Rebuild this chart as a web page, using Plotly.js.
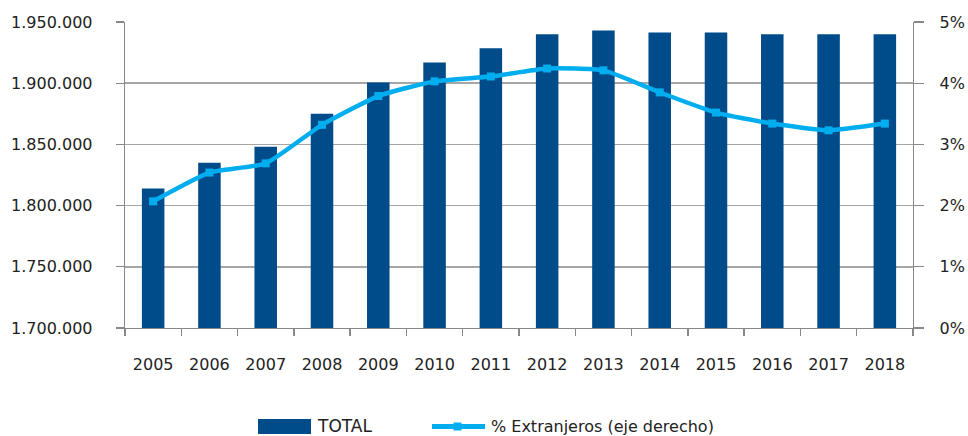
<!DOCTYPE html>
<html>
<head>
<meta charset="utf-8">
<script src="https://cdn.plot.ly/plotly-3.0.1.min.js"></script>
<style>html,body{margin:0;padding:0;background:#fff;}#chart{width:968px;height:436px;}</style>
</head>
<body>
<div id="chart"></div>
<script>
var years = ['2005','2006','2007','2008','2009','2010','2011','2012','2013','2014','2015','2016','2017','2018'];
var total = [1814000, 1835000, 1848000, 1875000, 1900500, 1917000, 1928500, 1940000, 1943000, 1941500, 1941500, 1940000, 1940000, 1940000];
var pctExtranjeros = [2.07, 2.54, 2.69, 3.32, 3.79, 4.03, 4.11, 4.24, 4.21, 3.85, 3.52, 3.34, 3.23, 3.34];
var leftTicks = [1700000, 1750000, 1800000, 1850000, 1900000, 1950000];
var rightTicks = [0, 1, 2, 3, 4, 5];
var rightTickText = ['0%', '1%', '2%', '3%', '4%', '5%'];
var seriesNames = ['TOTAL', '% Extranjeros (eje derecho)'];

var W = 968, H = 436;
var M = {l: 125, r: 55, t: 22, b: 108};
var pw = W - M.l - M.r, ph = H - M.t - M.b;
function px(x){ return (x - M.l) / pw; }
function py(y){ return (H - M.b - y) / ph; }

var barColor = '#004b89';
var lineColor = '#00aeef';
var font = 'DejaVu Sans, Arial, sans-serif';

var traces = [
  {type: 'bar', x: years, y: total, name: seriesNames[0], marker: {color: barColor}, yaxis: 'y', showlegend: false, hoverinfo: 'x+y'},
  {type: 'scatter', mode: 'lines+markers', x: years, y: pctExtranjeros, name: seriesNames[1], yaxis: 'y2',
   line: {color: lineColor, width: 4.5, shape: 'spline', smoothing: 0.5},
   marker: {symbol: 'square', size: 8, color: lineColor}, showlegend: false}
];

var shapes = [
  {type: 'rect', xref: 'paper', yref: 'paper', x0: px(258), x1: px(311), y0: py(434), y1: py(419), fillcolor: barColor, line: {width: 0}},
  {type: 'line', xref: 'paper', yref: 'paper', x0: px(432), x1: px(485), y0: py(426.5), y1: py(426.5), line: {color: lineColor, width: 5}},
  {type: 'rect', xref: 'paper', yref: 'paper', x0: px(453.5), x1: px(461.5), y0: py(430.5), y1: py(422.5), fillcolor: lineColor, line: {width: 0}}
];
var annotations = [
  {xref: 'paper', yref: 'paper', x: px(315), y: py(426), xanchor: 'left', yanchor: 'middle', text: seriesNames[0], showarrow: false, font: {family: font, size: 17, color: '#222'}},
  {xref: 'paper', yref: 'paper', x: px(489), y: py(426), xanchor: 'left', yanchor: 'middle', text: seriesNames[1], showarrow: false, font: {family: font, size: 16, color: '#222'}}
];

var layout = {
  width: W, height: H,
  margin: M,
  paper_bgcolor: '#fff', plot_bgcolor: '#fff',
  separators: ',.',
  bargap: 0.6,
  showlegend: false,
  font: {family: font, size: 16, color: '#222'},
  xaxis: {type: 'category', range: [-0.5, years.length - 0.5], tickson: 'boundaries', ticks: 'outside', ticklen: 7, tickcolor: '#888', tickwidth: 1.3,
          showline: true, linecolor: '#888', linewidth: 1.3, showgrid: false, ticklabelstandoff: 21,
          tickfont: {family: font, size: 16, color: '#222'}},
  yaxis: {range: [1700000, 1950000], tickvals: leftTicks, tickformat: ',d', ticks: 'outside', ticklen: 8, tickcolor: '#888', tickwidth: 1.3,
          showline: true, linecolor: '#888', linewidth: 1.3, showgrid: true, gridcolor: '#a6a6a6', gridwidth: 1.5, zeroline: false,
          ticklabelstandoff: 20, tickfont: {family: font, size: 16, color: '#222'}},
  yaxis2: {range: [0, 5], tickmode: 'array', tickvals: rightTicks, ticktext: rightTickText, overlaying: 'y', side: 'right', ticks: 'outside', ticklen: 10,
           tickcolor: '#888', tickwidth: 1.3, showline: true, linecolor: '#888', linewidth: 1.3, showgrid: false, zeroline: false,
           ticklabelstandoff: 12, tickfont: {family: font, size: 16, color: '#222'}},
  shapes: shapes,
  annotations: annotations
};

Plotly.newPlot('chart', traces, layout, {displayModeBar: false, staticPlot: true});
</script>
</body>
</html>
